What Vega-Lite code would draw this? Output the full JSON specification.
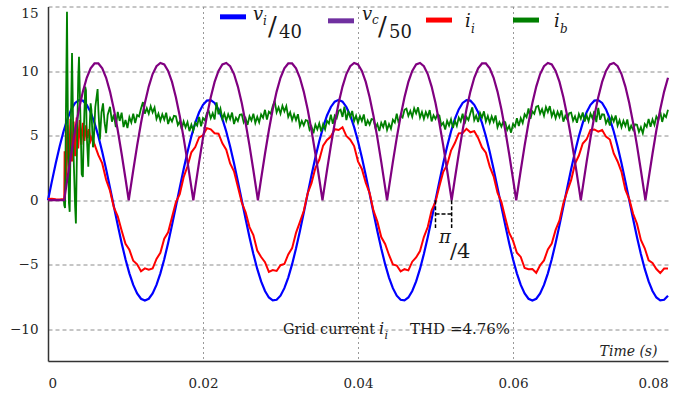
{
"$schema": "https://vega.github.io/schema/vega-lite/v6.json",
"width": 620, "height": 354.5,
"autosize": {"type": "none"},
"padding": {"left": 48, "top": 6.5, "right": 18, "bottom": 32},
"background": "white",
"config": {"view": {"stroke": null}},
"datasets": {
"vi": [
{"t":0,"v":0},{"t":0.0005,"v":1.46},{"t":0.001,"v":2.86},{"t":0.0015,"v":4.16},{"t":0.002,"v":5.32},{"t":0.0025,"v":6.29},{"t":0.003,"v":7.03},{"t":0.0035,"v":7.53},{"t":0.004,"v":7.75},{"t":0.0045,"v":7.71},{"t":0.005,"v":7.39},{"t":0.0055,"v":6.81},{"t":0.006,"v":5.99},{"t":0.0065,"v":4.95},{"t":0.007,"v":3.74},{"t":0.0075,"v":2.40},{"t":0.008,"v":0.97},{"t":0.0085,"v":-0.49},{"t":0.009,"v":-1.93},{"t":0.0095,"v":-3.31},{"t":0.01,"v":-4.57},{"t":0.0105,"v":-5.66},{"t":0.011,"v":-6.56},{"t":0.0115,"v":-7.22},{"t":0.012,"v":-7.63},{"t":0.0125,"v":-7.77},{"t":0.013,"v":-7.63},{"t":0.0135,"v":-7.22},{"t":0.014,"v":-6.56},{"t":0.0145,"v":-5.66},{"t":0.015,"v":-4.57},{"t":0.0155,"v":-3.31},{"t":0.016,"v":-1.93},{"t":0.0165,"v":-0.49},{"t":0.017,"v":0.97},{"t":0.0175,"v":2.40},{"t":0.018,"v":3.74},{"t":0.0185,"v":4.95},{"t":0.019,"v":5.99},{"t":0.0195,"v":6.81},{"t":0.02,"v":7.39},{"t":0.0205,"v":7.71},{"t":0.021,"v":7.75},{"t":0.0215,"v":7.53},{"t":0.022,"v":7.03},{"t":0.0225,"v":6.29},{"t":0.023,"v":5.32},{"t":0.0235,"v":4.16},{"t":0.024,"v":2.86},{"t":0.0245,"v":1.46},{"t":0.025,"v":0},{"t":0.0255,"v":-1.46},{"t":0.026,"v":-2.86},{"t":0.0265,"v":-4.16},{"t":0.027,"v":-5.32},{"t":0.0275,"v":-6.29},{"t":0.028,"v":-7.03},{"t":0.0285,"v":-7.53},{"t":0.029,"v":-7.75},{"t":0.0295,"v":-7.71},{"t":0.03,"v":-7.39},{"t":0.0305,"v":-6.81},{"t":0.031,"v":-5.99},{"t":0.0315,"v":-4.95},{"t":0.032,"v":-3.74},{"t":0.0325,"v":-2.40},{"t":0.033,"v":-0.97},{"t":0.0335,"v":0.49},{"t":0.034,"v":1.93},{"t":0.0345,"v":3.31},{"t":0.035,"v":4.57},{"t":0.0355,"v":5.66},{"t":0.036,"v":6.56},{"t":0.0365,"v":7.22},{"t":0.037,"v":7.63},{"t":0.0375,"v":7.77},{"t":0.038,"v":7.63},{"t":0.0385,"v":7.22},{"t":0.039,"v":6.56},{"t":0.0395,"v":5.66},{"t":0.04,"v":4.57},{"t":0.0405,"v":3.31},{"t":0.041,"v":1.93},{"t":0.0415,"v":0.49},{"t":0.042,"v":-0.97},{"t":0.0425,"v":-2.40},{"t":0.043,"v":-3.74},{"t":0.0435,"v":-4.95},{"t":0.044,"v":-5.99},{"t":0.0445,"v":-6.81},{"t":0.045,"v":-7.39},{"t":0.0455,"v":-7.71},{"t":0.046,"v":-7.75},{"t":0.0465,"v":-7.53},{"t":0.047,"v":-7.03},{"t":0.0475,"v":-6.29},{"t":0.048,"v":-5.32},{"t":0.0485,"v":-4.16},{"t":0.049,"v":-2.86},{"t":0.0495,"v":-1.46},{"t":0.05,"v":0},
{"t":0.0505,"v":1.46},{"t":0.051,"v":2.86},{"t":0.0515,"v":4.16},{"t":0.052,"v":5.32},{"t":0.0525,"v":6.29},{"t":0.053,"v":7.03},{"t":0.0535,"v":7.53},{"t":0.054,"v":7.75},{"t":0.0545,"v":7.71},{"t":0.055,"v":7.39},{"t":0.0555,"v":6.81},{"t":0.056,"v":5.99},{"t":0.0565,"v":4.95},{"t":0.057,"v":3.74},{"t":0.0575,"v":2.40},{"t":0.058,"v":0.97},{"t":0.0585,"v":-0.49},{"t":0.059,"v":-1.93},{"t":0.0595,"v":-3.31},{"t":0.06,"v":-4.57},{"t":0.0605,"v":-5.66},{"t":0.061,"v":-6.56},{"t":0.0615,"v":-7.22},{"t":0.062,"v":-7.63},{"t":0.0625,"v":-7.77},{"t":0.063,"v":-7.63},{"t":0.0635,"v":-7.22},{"t":0.064,"v":-6.56},{"t":0.0645,"v":-5.66},{"t":0.065,"v":-4.57},{"t":0.0655,"v":-3.31},{"t":0.066,"v":-1.93},{"t":0.0665,"v":-0.49},{"t":0.067,"v":0.97},{"t":0.0675,"v":2.40},{"t":0.068,"v":3.74},{"t":0.0685,"v":4.95},{"t":0.069,"v":5.99},{"t":0.0695,"v":6.81},{"t":0.07,"v":7.39},{"t":0.0705,"v":7.71},{"t":0.071,"v":7.75},{"t":0.0715,"v":7.53},{"t":0.072,"v":7.03},{"t":0.0725,"v":6.29},{"t":0.073,"v":5.32},{"t":0.0735,"v":4.16},{"t":0.074,"v":2.86},{"t":0.0745,"v":1.46},{"t":0.075,"v":0},{"t":0.0755,"v":-1.46},{"t":0.076,"v":-2.86},{"t":0.0765,"v":-4.16},{"t":0.077,"v":-5.32},{"t":0.0775,"v":-6.29},{"t":0.078,"v":-7.03},{"t":0.0785,"v":-7.53},{"t":0.079,"v":-7.75},{"t":0.0795,"v":-7.71},{"t":0.08,"v":-7.39}
],
"vc": [
{"t":0,"v":0},{"t":0.001,"v":0},{"t":0.002083,"v":0},{"t":0.0025,"v":1.66},{"t":0.003,"v":3.60},{"t":0.0035,"v":5.42},{"t":0.004,"v":7.04},{"t":0.0045,"v":8.41},{"t":0.005,"v":9.48},{"t":0.0055,"v":10.22},{"t":0.006,"v":10.59},{"t":0.0065,"v":10.59},{"t":0.007,"v":10.22},{"t":0.0075,"v":9.48},{"t":0.008,"v":8.41},{"t":0.0085,"v":7.04},{"t":0.009,"v":5.42},{"t":0.0095,"v":3.60},{"t":0.01,"v":1.66},{"t":0.010417,"v":0},{"t":0.0105,"v":0.33},{"t":0.011,"v":2.32},{"t":0.0115,"v":4.23},{"t":0.012,"v":5.98},{"t":0.0125,"v":7.52},{"t":0.013,"v":8.80},{"t":0.0135,"v":9.77},{"t":0.014,"v":10.38},{"t":0.0145,"v":10.63},{"t":0.015,"v":10.51},{"t":0.0155,"v":10.01},{"t":0.016,"v":9.16},{"t":0.0165,"v":7.98},{"t":0.017,"v":6.52},{"t":0.0175,"v":4.83},{"t":0.018,"v":2.97},{"t":0.0185,"v":1.00},{"t":0.01875,"v":0},{"t":0.019,"v":1.00},{"t":0.0195,"v":2.97},{"t":0.02,"v":4.83},{"t":0.0205,"v":6.52},{"t":0.021,"v":7.98},{"t":0.0215,"v":9.16},{"t":0.022,"v":10.01},{"t":0.0225,"v":10.51},{"t":0.023,"v":10.63},{"t":0.0235,"v":10.38},{"t":0.024,"v":9.77},{"t":0.0245,"v":8.80},{"t":0.025,"v":7.52},{"t":0.0255,"v":5.98},{"t":0.026,"v":4.23},{"t":0.0265,"v":2.32},{"t":0.027,"v":0.33},{"t":0.027083,"v":0},
{"t":0.0275,"v":1.66},{"t":0.028,"v":3.60},{"t":0.0285,"v":5.42},{"t":0.029,"v":7.04},{"t":0.0295,"v":8.41},{"t":0.03,"v":9.48},{"t":0.0305,"v":10.22},{"t":0.031,"v":10.59},{"t":0.0315,"v":10.59},{"t":0.032,"v":10.22},{"t":0.0325,"v":9.48},{"t":0.033,"v":8.41},{"t":0.0335,"v":7.04},{"t":0.034,"v":5.42},{"t":0.0345,"v":3.60},{"t":0.035,"v":1.66},{"t":0.035417,"v":0},{"t":0.0355,"v":0.33},{"t":0.036,"v":2.32},{"t":0.0365,"v":4.23},{"t":0.037,"v":5.98},{"t":0.0375,"v":7.52},{"t":0.038,"v":8.80},{"t":0.0385,"v":9.77},{"t":0.039,"v":10.38},{"t":0.0395,"v":10.63},{"t":0.04,"v":10.51},{"t":0.0405,"v":10.01},{"t":0.041,"v":9.16},{"t":0.0415,"v":7.98},{"t":0.042,"v":6.52},{"t":0.0425,"v":4.83},{"t":0.043,"v":2.97},{"t":0.0435,"v":1.00},{"t":0.04375,"v":0},{"t":0.044,"v":1.00},{"t":0.0445,"v":2.97},{"t":0.045,"v":4.83},{"t":0.0455,"v":6.52},{"t":0.046,"v":7.98},{"t":0.0465,"v":9.16},{"t":0.047,"v":10.01},{"t":0.0475,"v":10.51},{"t":0.048,"v":10.63},{"t":0.0485,"v":10.38},{"t":0.049,"v":9.77},{"t":0.0495,"v":8.80},{"t":0.05,"v":7.52},{"t":0.0505,"v":5.98},{"t":0.051,"v":4.23},{"t":0.0515,"v":2.32},{"t":0.052,"v":0.33},{"t":0.052083,"v":0},
{"t":0.0525,"v":1.66},{"t":0.053,"v":3.60},{"t":0.0535,"v":5.42},{"t":0.054,"v":7.04},{"t":0.0545,"v":8.41},{"t":0.055,"v":9.48},{"t":0.0555,"v":10.22},{"t":0.056,"v":10.59},{"t":0.0565,"v":10.59},{"t":0.057,"v":10.22},{"t":0.0575,"v":9.48},{"t":0.058,"v":8.41},{"t":0.0585,"v":7.04},{"t":0.059,"v":5.42},{"t":0.0595,"v":3.60},{"t":0.06,"v":1.66},{"t":0.060417,"v":0},{"t":0.0605,"v":0.33},{"t":0.061,"v":2.32},{"t":0.0615,"v":4.23},{"t":0.062,"v":5.98},{"t":0.0625,"v":7.52},{"t":0.063,"v":8.80},{"t":0.0635,"v":9.77},{"t":0.064,"v":10.38},{"t":0.0645,"v":10.63},{"t":0.065,"v":10.51},{"t":0.0655,"v":10.01},{"t":0.066,"v":9.16},{"t":0.0665,"v":7.98},{"t":0.067,"v":6.52},{"t":0.0675,"v":4.83},{"t":0.068,"v":2.97},{"t":0.0685,"v":1.00},{"t":0.06875,"v":0},{"t":0.069,"v":1.00},{"t":0.0695,"v":2.97},{"t":0.07,"v":4.83},{"t":0.0705,"v":6.52},{"t":0.071,"v":7.98},{"t":0.0715,"v":9.16},{"t":0.072,"v":10.01},{"t":0.0725,"v":10.51},{"t":0.073,"v":10.63},{"t":0.0735,"v":10.38},{"t":0.074,"v":9.77},{"t":0.0745,"v":8.80},{"t":0.075,"v":7.52},{"t":0.0755,"v":5.98},{"t":0.076,"v":4.23},{"t":0.0765,"v":2.32},{"t":0.077,"v":0.33},{"t":0.077083,"v":0},{"t":0.0775,"v":1.66},{"t":0.078,"v":3.60},{"t":0.0785,"v":5.42},{"t":0.079,"v":7.04},{"t":0.0795,"v":8.41},{"t":0.08,"v":9.48}
],
"ii": [
{"t":0,"v":0.1},{"t":0.0005,"v":0.12},{"t":0.001,"v":0.08},{"t":0.0015,"v":0.06},{"t":0.002,"v":0.1},{"t":0.0021,"v":0.1},{"t":0.00215,"v":3.8},{"t":0.0023,"v":1.5},{"t":0.0025,"v":5.8},{"t":0.0027,"v":2.2},{"t":0.0029,"v":6.3},{"t":0.0031,"v":3.0},{"t":0.0033,"v":6.1},{"t":0.0035,"v":3.4},{"t":0.0037,"v":6.4},{"t":0.0039,"v":4.0},{"t":0.0041,"v":6.2},{"t":0.0043,"v":4.3},{"t":0.0045,"v":6.0},{"t":0.0047,"v":4.6},{"t":0.0049,"v":5.8},{"t":0.0051,"v":4.8},{"t":0.0053,"v":5.5},{"t":0.0055,"v":4.6},{"t":0.0057,"v":4.9},
{"t":0.006,"v":4.32},{"t":0.0065,"v":3.49},{"t":0.007,"v":2.85},{"t":0.0075,"v":1.58},{"t":0.008,"v":0.73},{"t":0.0085,"v":-0.55},{"t":0.009,"v":-1.25},{"t":0.0095,"v":-2.34},{"t":0.01,"v":-3.38},{"t":0.0105,"v":-3.84},{"t":0.011,"v":-4.69},{"t":0.0115,"v":-4.96},{"t":0.012,"v":-5.50},{"t":0.0125,"v":-5.28},{"t":0.013,"v":-5.38},{"t":0.0135,"v":-5.29},{"t":0.014,"v":-4.54},{"t":0.0145,"v":-4.07},{"t":0.015,"v":-2.98},{"t":0.0155,"v":-2.48},{"t":0.016,"v":-1.32},{"t":0.0165,"v":-0.17},{"t":0.017,"v":0.47},{"t":0.0175,"v":1.78},{"t":0.018,"v":2.63},{"t":0.0185,"v":3.71},{"t":0.019,"v":4.12},{"t":0.0195,"v":4.86},{"t":0.02,"v":5.03},{"t":0.0205,"v":5.58},{"t":0.021,"v":5.49},{"t":0.0215,"v":5.18},{"t":0.022,"v":5.15},{"t":0.0225,"v":4.40},{"t":0.023,"v":3.91},{"t":0.0235,"v":2.85},{"t":0.024,"v":2.24},{"t":0.0245,"v":1.05},{"t":0.025,"v":-0.18},{"t":0.0255,"v":-0.93},{"t":0.026,"v":-2.08},{"t":0.0265,"v":-2.70},{"t":0.027,"v":-3.90},{"t":0.0275,"v":-4.40},{"t":0.028,"v":-4.80},{"t":0.0285,"v":-5.55},{"t":0.029,"v":-5.41},{"t":0.0295,"v":-5.48},{"t":0.03,"v":-5.03},{"t":0.0305,"v":-4.94},{"t":0.031,"v":-4.20},{"t":0.0315,"v":-3.71},{"t":0.032,"v":-2.53},{"t":0.0325,"v":-1.70},{"t":0.033,"v":-0.84},{"t":0.0335,"v":0.52},{"t":0.034,"v":1.32},{"t":0.0345,"v":2.49},{"t":0.035,"v":3.13},{"t":0.0355,"v":4.23},{"t":0.036,"v":4.66},{"t":0.0365,"v":4.93},{"t":0.037,"v":5.50},{"t":0.0375,"v":5.44},{"t":0.038,"v":5.65},{"t":0.0385,"v":4.97},{"t":0.039,"v":4.69},{"t":0.0395,"v":4.19},{"t":0.04,"v":3.01},{"t":0.0405,"v":2.42},{"t":0.041,"v":1.35},{"t":0.0415,"v":0.55},{"t":0.042,"v":-0.81},{"t":0.0425,"v":-1.66},{"t":0.043,"v":-2.85},{"t":0.0435,"v":-3.39},{"t":0.044,"v":-4.24},{"t":0.0445,"v":-4.97},{"t":0.045,"v":-5.06},{"t":0.0455,"v":-5.51},{"t":0.046,"v":-5.34},{"t":0.0465,"v":-5.43},{"t":0.047,"v":-4.76},{"t":0.0475,"v":-4.43},{"t":0.048,"v":-3.94},{"t":0.0485,"v":-2.85},{"t":0.049,"v":-2.08},{"t":0.0495,"v":-0.78},{"t":0.05,"v":-0.14},{"t":0.0505,"v":1.08},{"t":0.051,"v":2.20},{"t":0.0515,"v":2.73},{"t":0.052,"v":3.84},{"t":0.0525,"v":4.43},{"t":0.053,"v":5.18},{"t":0.0535,"v":5.21},{"t":0.054,"v":5.53},{"t":0.0545,"v":5.26},{"t":0.055,"v":5.35},{"t":0.0555,"v":4.82},{"t":0.056,"v":4.09},{"t":0.0565,"v":3.68},{"t":0.057,"v":2.60},{"t":0.0575,"v":1.85},{"t":0.058,"v":0.59},{"t":0.0585,"v":-0.13},{"t":0.059,"v":-1.35},{"t":0.0595,"v":-2.52},{"t":0.06,"v":-3.13},{"t":0.0605,"v":-4.07},{"t":0.061,"v":-4.39},{"t":0.0615,"v":-5.25},{"t":0.062,"v":-5.35},{"t":0.0625,"v":-5.32},{"t":0.063,"v":-5.62},{"t":0.0635,"v":-5.03},{"t":0.064,"v":-4.66},{"t":0.0645,"v":-3.81},{"t":0.065,"v":-3.35},{"t":0.0655,"v":-2.30},{"t":0.066,"v":-1.57},{"t":0.0665,"v":-0.23},{"t":0.067,"v":0.69},{"t":0.0675,"v":1.55},{"t":0.068,"v":2.82},{"t":0.0685,"v":3.46},{"t":0.069,"v":4.39},{"t":0.0695,"v":4.72},{"t":0.07,"v":5.45},{"t":0.0705,"v":5.48},{"t":0.071,"v":5.31},{"t":0.0715,"v":5.43},{"t":0.072,"v":4.92},{"t":0.0725,"v":4.70},{"t":0.073,"v":3.62},{"t":0.0735,"v":3.00},{"t":0.074,"v":2.20},{"t":0.0745,"v":0.81},{"t":0.075,"v":0.08},{"t":0.0755,"v":-1.05},{"t":0.076,"v":-1.82},{"t":0.0765,"v":-3.07},{"t":0.077,"v":-3.72},{"t":0.0775,"v":-4.65},{"t":0.078,"v":-4.86},{"t":0.0785,"v":-5.33},{"t":0.079,"v":-5.64},{"t":0.0795,"v":-5.29},{"t":0.08,"v":-5.28}
],
"ib": [
{"t":0.00205,"v":0},{"t":0.0021,"v":-0.4},{"t":0.0022,"v":-0.6},{"t":0.0023,"v":6.0},{"t":0.00245,"v":14.6},{"t":0.0026,"v":4.0},{"t":0.0027,"v":-0.2},{"t":0.0028,"v":-0.9},{"t":0.0029,"v":4.0},{"t":0.0031,"v":11.4},{"t":0.0033,"v":3.5},{"t":0.0035,"v":-0.5},{"t":0.0036,"v":-1.8},{"t":0.0037,"v":2.5},{"t":0.0039,"v":9.5},{"t":0.004,"v":11.1},{"t":0.0042,"v":6.0},{"t":0.00435,"v":2.0},{"t":0.0045,"v":1.8},{"t":0.0046,"v":5.0},{"t":0.0048,"v":8.8},{"t":0.0049,"v":8.5},{"t":0.005,"v":5.0},{"t":0.0052,"v":2.6},{"t":0.0053,"v":4.5},{"t":0.0055,"v":7.5},{"t":0.0056,"v":7.0},{"t":0.0058,"v":4.1},{"t":0.0059,"v":4.5},{"t":0.0061,"v":7.2},{"t":0.0064,"v":8.6},{"t":0.0065,"v":7.0},{"t":0.0067,"v":4.7},{"t":0.0069,"v":6.8},{"t":0.0071,"v":7.5},{"t":0.0073,"v":6.0},{"t":0.0075,"v":5.2},{"t":0.0077,"v":6.6},
{"t":0.008,"v":7.23},{"t":0.00825,"v":6.08},{"t":0.0085,"v":6.63},{"t":0.00875,"v":5.66},{"t":0.009,"v":6.84},{"t":0.00925,"v":6.14},{"t":0.0095,"v":6.78},{"t":0.00975,"v":5.66},{"t":0.01,"v":6.21},{"t":0.01025,"v":5.59},{"t":0.0105,"v":6.43},{"t":0.01075,"v":6.02},{"t":0.011,"v":6.70},{"t":0.01125,"v":5.98},{"t":0.0115,"v":6.60},{"t":0.01175,"v":6.48},{"t":0.012,"v":7.10},{"t":0.01225,"v":7.60},{"t":0.0125,"v":6.70},{"t":0.01275,"v":7.13},{"t":0.013,"v":6.70},{"t":0.01325,"v":7.28},{"t":0.0135,"v":6.80},{"t":0.01375,"v":7.18},{"t":0.014,"v":6.30},{"t":0.01425,"v":6.70},{"t":0.0145,"v":6.15},{"t":0.01475,"v":6.65},{"t":0.015,"v":6.25},{"t":0.01525,"v":6.78},{"t":0.0155,"v":5.90},{"t":0.01575,"v":6.38},{"t":0.016,"v":6.10},{"t":0.01625,"v":6.53},{"t":0.0165,"v":6.50},{"t":0.01675,"v":5.83},{"t":0.017,"v":6.10},{"t":0.01725,"v":5.50},{"t":0.0175,"v":6.10},{"t":0.01775,"v":5.65},{"t":0.018,"v":6.05},{"t":0.01825,"v":5.35},{"t":0.0185,"v":5.85},{"t":0.01875,"v":5.40},{"t":0.019,"v":6.00},{"t":0.01925,"v":5.78},{"t":0.0195,"v":6.45},{"t":0.01975,"v":5.73},{"t":0.02,"v":6.35},{"t":0.02025,"v":6.18},{"t":0.0205,"v":6.75},{"t":0.02075,"v":6.88},{"t":0.021,"v":6.35},{"t":0.02125,"v":6.73},{"t":0.0215,"v":6.25},{"t":0.02175,"v":7.58},{"t":0.022,"v":6.65},{"t":0.02225,"v":7.10},{"t":0.0225,"v":6.30},{"t":0.02275,"v":6.70},{"t":0.023,"v":6.15},{"t":0.02325,"v":6.66},{"t":0.0235,"v":6.28},{"t":0.02375,"v":6.79},{"t":0.024,"v":5.90},{"t":0.02425,"v":6.39},{"t":0.0245,"v":6.13},{"t":0.02475,"v":6.61},{"t":0.025,"v":6.65},{"t":0.02525,"v":6.03},{"t":0.0255,"v":6.35},{"t":0.02575,"v":5.83},{"t":0.026,"v":6.50},{"t":0.02625,"v":6.18},{"t":0.0265,"v":6.70},{"t":0.02675,"v":5.98},{"t":0.027,"v":6.45},{"t":0.02725,"v":6.03},{"t":0.0275,"v":6.65},{"t":0.02775,"v":6.38},{"t":0.028,"v":7.00},{"t":0.02825,"v":6.25},{"t":0.0285,"v":6.85},{"t":0.02875,"v":6.70},{"t":0.029,"v":7.30},{"t":0.02925,"v":7.68},{"t":0.0295,"v":6.80},{"t":0.02975,"v":7.18},{"t":0.03,"v":6.70},{"t":0.03025,"v":7.31},{"t":0.0305,"v":6.88},{"t":0.03075,"v":7.29},{"t":0.031,"v":6.45},{"t":0.03125,"v":6.80},{"t":0.0315,"v":6.20},{"t":0.03175,"v":6.65},{"t":0.032,"v":6.20},{"t":0.03225,"v":6.66},{"t":0.0325,"v":5.73},{"t":0.03275,"v":6.14},{"t":0.033,"v":5.80},{"t":0.03325,"v":6.20},{"t":0.0335,"v":6.15},{"t":0.03375,"v":5.45},{"t":0.034,"v":5.70},{"t":0.03425,"v":5.18},{"t":0.0345,"v":5.85},{"t":0.03475,"v":5.48},{"t":0.035,"v":5.95},{"t":0.03525,"v":5.31},{"t":0.0355,"v":5.88},{"t":0.03575,"v":5.49},{"t":0.036,"v":6.15},{"t":0.03625,"v":5.94},{"t":0.0365,"v":6.63},{"t":0.03675,"v":5.91},{"t":0.037,"v":6.55},{"t":0.03725,"v":6.35},{"t":0.0375,"v":6.90},{"t":0.03775,"v":7.00},{"t":0.038,"v":6.45},{"t":0.03825,"v":7.25},{"t":0.0385,"v":6.20},{"t":0.03875,"v":6.85},{"t":0.039,"v":6.45},{"t":0.03925,"v":6.91},{"t":0.0395,"v":6.13},{"t":0.03975,"v":6.54},{"t":0.04,"v":6.00},{"t":0.04025,"v":6.51},{"t":0.0405,"v":6.13},{"t":0.04075,"v":6.64},{"t":0.041,"v":5.75},{"t":0.04125,"v":6.18},{"t":0.0415,"v":5.85},{"t":0.04175,"v":6.28},{"t":0.042,"v":6.25},{"t":0.04225,"v":5.60},{"t":0.0425,"v":5.90},{"t":0.04275,"v":5.35},{"t":0.043,"v":6.00},{"t":0.04325,"v":5.66},{"t":0.0435,"v":6.18},{"t":0.04375,"v":5.44},{"t":0.044,"v":5.90},{"t":0.04425,"v":5.54},{"t":0.0445,"v":6.23},{"t":0.04475,"v":6.01},{"t":0.045,"v":6.70},{"t":0.04525,"v":5.95},{"t":0.0455,"v":6.55},{"t":0.04575,"v":6.40},{"t":0.046,"v":7.00},{"t":0.04625,"v":7.09},{"t":0.0465,"v":6.53},{"t":0.04675,"v":6.91},{"t":0.047,"v":6.45},{"t":0.04725,"v":7.11},{"t":0.0475,"v":6.73},{"t":0.04775,"v":7.19},{"t":0.048,"v":6.40},{"t":0.04825,"v":6.83},{"t":0.0485,"v":6.30},{"t":0.04875,"v":6.83},{"t":0.049,"v":6.45},{"t":0.04925,"v":6.98},{"t":0.0495,"v":6.10},{"t":0.04975,"v":6.58},{"t":0.05,"v":6.30},{"t":0.05025,"v":6.65},{"t":0.0505,"v":6.55},{"t":0.05075,"v":5.80},{"t":0.051,"v":6.00},{"t":0.05125,"v":5.48},{"t":0.0515,"v":6.15},{"t":0.05175,"v":5.78},{"t":0.052,"v":6.25},{"t":0.05225,"v":5.60},{"t":0.0525,"v":6.15},{"t":0.05275,"v":5.75},{"t":0.053,"v":6.40},{"t":0.05325,"v":6.10},{"t":0.0535,"v":6.70},{"t":0.05375,"v":5.90},{"t":0.054,"v":6.45},{"t":0.05425,"v":6.21},{"t":0.0545,"v":6.73},{"t":0.05475,"v":7.19},{"t":0.055,"v":6.20},{"t":0.05525,"v":6.55},{"t":0.0555,"v":6.05},{"t":0.05575,"v":6.75},{"t":0.056,"v":6.40},{"t":0.05625,"v":6.88},{"t":0.0565,"v":6.10},{"t":0.05675,"v":6.53},{"t":0.057,"v":6.00},{"t":0.05725,"v":6.49},{"t":0.0575,"v":6.08},{"t":0.05775,"v":6.56},{"t":0.058,"v":5.65},{"t":0.05825,"v":6.05},{"t":0.0585,"v":5.70},{"t":0.05875,"v":6.10},{"t":0.059,"v":6.05},{"t":0.05925,"v":5.43},{"t":0.0595,"v":5.75},{"t":0.05975,"v":5.23},{"t":0.06,"v":5.90},{"t":0.06025,"v":5.70},{"t":0.0605,"v":6.35},{"t":0.06075,"v":5.75},{"t":0.061,"v":6.35},{"t":0.06125,"v":5.98},{"t":0.0615,"v":6.65},{"t":0.06175,"v":6.43},{"t":0.062,"v":7.10},{"t":0.06225,"v":6.31},{"t":0.0625,"v":6.88},{"t":0.06275,"v":6.69},{"t":0.063,"v":7.25},{"t":0.06325,"v":7.30},{"t":0.0635,"v":6.70},{"t":0.06375,"v":7.05},{"t":0.064,"v":6.55},{"t":0.06425,"v":7.21},{"t":0.0645,"v":6.83},{"t":0.06475,"v":7.29},{"t":0.065,"v":6.50},{"t":0.06525,"v":6.90},{"t":0.0655,"v":6.35},{"t":0.06575,"v":6.85},{"t":0.066,"v":6.45},{"t":0.06625,"v":6.96},{"t":0.0665,"v":6.08},{"t":0.06675,"v":6.54},{"t":0.067,"v":6.25},{"t":0.06725,"v":6.74},{"t":0.0675,"v":6.78},{"t":0.06775,"v":6.16},{"t":0.068,"v":6.50},{"t":0.06825,"v":5.99},{"t":0.0685,"v":6.68},{"t":0.06875,"v":6.31},{"t":0.069,"v":6.80},{"t":0.06925,"v":6.09},{"t":0.0695,"v":6.58},{"t":0.06975,"v":6.11},{"t":0.07,"v":6.70},{"t":0.07025,"v":6.35},{"t":0.0705,"v":6.90},{"t":0.07075,"v":6.05},{"t":0.071,"v":7.15},{"t":0.07125,"v":6.23},{"t":0.0715,"v":6.65},{"t":0.07175,"v":6.63},{"t":0.072,"v":5.95},{"t":0.07225,"v":6.29},{"t":0.0725,"v":5.78},{"t":0.07275,"v":6.46},{"t":0.073,"v":6.10},{"t":0.07325,"v":6.56},{"t":0.0735,"v":5.78},{"t":0.07375,"v":6.19},{"t":0.074,"v":5.65},{"t":0.07425,"v":6.15},{"t":0.0745,"v":5.75},{"t":0.07475,"v":6.25},{"t":0.075,"v":5.35},{"t":0.07525,"v":5.78},{"t":0.0755,"v":5.45},{"t":0.07575,"v":5.88},{"t":0.076,"v":5.85},{"t":0.07625,"v":5.28},{"t":0.0765,"v":5.65},{"t":0.07675,"v":5.18},{"t":0.077,"v":5.90},{"t":0.07725,"v":5.68},{"t":0.0775,"v":6.30},{"t":0.07775,"v":5.68},{"t":0.078,"v":6.25},{"t":0.07825,"v":5.84},{"t":0.0785,"v":6.48},{"t":0.07875,"v":6.21},{"t":0.079,"v":6.85},{"t":0.07925,"v":6.06},{"t":0.0795,"v":6.63},{"t":0.07975,"v":6.44},{"t":0.08,"v":7.00}
],
"one": [{"k": 1}]
},
"layer": [
{"data": {"name": "vi"}, "mark": {"type": "line", "color": "#0000ff", "strokeWidth": 2.2},
 "encoding": {
 "x": {"field": "t", "type": "quantitative",
  "scale": {"domain": [0, 0.08], "nice": false, "zero": false},
  "axis": {"values": [0, 0.02, 0.04, 0.06, 0.08], "format": ".2~f", "title": "Time (s)",
   "labelFont": "DejaVu Serif", "labelFontSize": 13.5, "labelColor": "#262626", "labelPadding": 15, "ticks": false, "labelFlush": true,
   "domainColor": "#333333", "domainWidth": 1.5,
   "grid": true, "gridColor": "#999999", "gridDash": [2, 3], "gridWidth": 1,
   "gridOpacity": {"condition": {"test": "datum.value < 0.001 || datum.value > 0.079", "value": 0}, "value": 1},
   "titleFont": "DejaVu Serif", "titleFontStyle": "italic", "titleFontWeight": "normal", "titleFontSize": 14, "titleColor": "#262626",
   "titleAlign": "right", "titleBaseline": "alphabetic", "titleX": 609, "titleY": -6}},
 "y": {"field": "v", "type": "quantitative",
  "scale": {"domain": [-12.45, 15], "nice": false, "zero": false},
  "axis": {"values": [-10, -5, 0, 5, 10, 15], "title": null,
   "labelFont": "DejaVu Serif", "labelFontSize": 13.5, "labelColor": "#262626", "labelPadding": 10, "ticks": false, "labelFlush": true,
   "domainColor": "#333333", "domainWidth": 1.5,
   "grid": true, "gridColor": "#8c8c8c", "gridDash": [4, 3], "gridWidth": 1}}}},
{"data": {"name": "ii"}, "mark": {"type": "line", "color": "#ff0000", "strokeWidth": 2},
 "encoding": {"x": {"field": "t", "type": "quantitative"}, "y": {"field": "v", "type": "quantitative"}}},
{"data": {"name": "ib"}, "mark": {"type": "line", "color": "#008000", "strokeWidth": 1.8},
 "encoding": {"x": {"field": "t", "type": "quantitative"}, "y": {"field": "v", "type": "quantitative"}}},
{"data": {"name": "vc"}, "mark": {"type": "line", "color": "#800080", "strokeWidth": 2.2},
 "encoding": {"x": {"field": "t", "type": "quantitative"}, "y": {"field": "v", "type": "quantitative"}}},
{"data": {"name": "one"}, "mark": {"type": "rule", "color": "#0000ff", "strokeWidth": 5}, "encoding": {"x": {"datum": 0.022194, "type": "quantitative"}, "x2": {"datum": 0.025548}, "y": {"datum": 14.2, "type": "quantitative"}}},
{"data": {"name": "one"}, "mark": {"type": "rule", "color": "#7030a0", "strokeWidth": 5}, "encoding": {"x": {"datum": 0.036129, "type": "quantitative"}, "x2": {"datum": 0.039484}, "y": {"datum": 13.89, "type": "quantitative"}}},
{"data": {"name": "one"}, "mark": {"type": "rule", "color": "#ff0000", "strokeWidth": 5}, "encoding": {"x": {"datum": 0.048774, "type": "quantitative"}, "x2": {"datum": 0.052129}, "y": {"datum": 13.95, "type": "quantitative"}}},
{"data": {"name": "one"}, "mark": {"type": "rule", "color": "#008000", "strokeWidth": 5}, "encoding": {"x": {"datum": 0.06, "type": "quantitative"}, "x2": {"datum": 0.063355}, "y": {"datum": 13.95, "type": "quantitative"}}},
{"data": {"name": "one"}, "mark": {"type": "text", "text": "v", "font": "DejaVu Serif", "fontStyle": "italic", "fontSize": 18, "align": "left", "baseline": "alphabetic", "color": "#1a1a1a"}, "encoding": {"x": {"datum": 0.026452, "type": "quantitative"}, "y": {"datum": 13.955, "type": "quantitative"}}},
{"data": {"name": "one"}, "mark": {"type": "text", "text": "i", "font": "DejaVu Serif", "fontStyle": "italic", "fontSize": 12, "align": "left", "baseline": "alphabetic", "color": "#1a1a1a"}, "encoding": {"x": {"datum": 0.027742, "type": "quantitative"}, "y": {"datum": 13.53, "type": "quantitative"}}},
{"data": {"name": "one"}, "mark": {"type": "text", "text": "/", "font": "DejaVu Serif", "fontSize": 26, "align": "left", "baseline": "alphabetic", "color": "#1a1a1a"}, "encoding": {"x": {"datum": 0.028387, "type": "quantitative"}, "y": {"datum": 12.82, "type": "quantitative"}}},
{"data": {"name": "one"}, "mark": {"type": "text", "text": "40", "font": "DejaVu Serif", "fontSize": 18, "align": "left", "baseline": "alphabetic", "color": "#1a1a1a"}, "encoding": {"x": {"datum": 0.029806, "type": "quantitative"}, "y": {"datum": 12.56, "type": "quantitative"}}},
{"data": {"name": "one"}, "mark": {"type": "text", "text": "v", "font": "DejaVu Serif", "fontStyle": "italic", "fontSize": 18, "align": "left", "baseline": "alphabetic", "color": "#1a1a1a"}, "encoding": {"x": {"datum": 0.040516, "type": "quantitative"}, "y": {"datum": 13.955, "type": "quantitative"}}},
{"data": {"name": "one"}, "mark": {"type": "text", "text": "c", "font": "DejaVu Serif", "fontStyle": "italic", "fontSize": 12, "align": "left", "baseline": "alphabetic", "color": "#1a1a1a"}, "encoding": {"x": {"datum": 0.041806, "type": "quantitative"}, "y": {"datum": 13.68, "type": "quantitative"}}},
{"data": {"name": "one"}, "mark": {"type": "text", "text": "/", "font": "DejaVu Serif", "fontSize": 26, "align": "left", "baseline": "alphabetic", "color": "#1a1a1a"}, "encoding": {"x": {"datum": 0.042581, "type": "quantitative"}, "y": {"datum": 12.82, "type": "quantitative"}}},
{"data": {"name": "one"}, "mark": {"type": "text", "text": "50", "font": "DejaVu Serif", "fontSize": 18, "align": "left", "baseline": "alphabetic", "color": "#1a1a1a"}, "encoding": {"x": {"datum": 0.044, "type": "quantitative"}, "y": {"datum": 12.56, "type": "quantitative"}}},
{"data": {"name": "one"}, "mark": {"type": "text", "text": "i", "font": "DejaVu Serif", "fontStyle": "italic", "fontSize": 18, "align": "left", "baseline": "alphabetic", "color": "#1a1a1a"}, "encoding": {"x": {"datum": 0.053806, "type": "quantitative"}, "y": {"datum": 13.41, "type": "quantitative"}}},
{"data": {"name": "one"}, "mark": {"type": "text", "text": "i", "font": "DejaVu Serif", "fontStyle": "italic", "fontSize": 12, "align": "left", "baseline": "alphabetic", "color": "#1a1a1a"}, "encoding": {"x": {"datum": 0.054581, "type": "quantitative"}, "y": {"datum": 12.95, "type": "quantitative"}}},
{"data": {"name": "one"}, "mark": {"type": "text", "text": "i", "font": "DejaVu Serif", "fontStyle": "italic", "fontSize": 18, "align": "left", "baseline": "alphabetic", "color": "#1a1a1a"}, "encoding": {"x": {"datum": 0.06529, "type": "quantitative"}, "y": {"datum": 13.41, "type": "quantitative"}}},
{"data": {"name": "one"}, "mark": {"type": "text", "text": "b", "font": "DejaVu Serif", "fontStyle": "italic", "fontSize": 12, "align": "left", "baseline": "alphabetic", "color": "#1a1a1a"}, "encoding": {"x": {"datum": 0.066065, "type": "quantitative"}, "y": {"datum": 12.95, "type": "quantitative"}}},
{"data": {"name": "one"}, "mark": {"type": "rule", "color": "#000000", "strokeWidth": 1.5, "strokeDash": [4, 2]}, "encoding": {"x": {"datum": 0.05, "type": "quantitative"}, "y": {"datum": 0, "type": "quantitative"}, "y2": {"datum": -2.15}}},
{"data": {"name": "one"}, "mark": {"type": "rule", "color": "#000000", "strokeWidth": 1.5, "strokeDash": [4, 2]}, "encoding": {"x": {"datum": 0.052083, "type": "quantitative"}, "y": {"datum": 0, "type": "quantitative"}, "y2": {"datum": -2.15}}},
{"data": {"name": "one"}, "mark": {"type": "rule", "color": "#000000", "strokeWidth": 1.5, "strokeDash": [4, 2]}, "encoding": {"x": {"datum": 0.05, "type": "quantitative"}, "x2": {"datum": 0.052083}, "y": {"datum": -1.07, "type": "quantitative"}}},
{"data": {"name": "one"}, "mark": {"type": "text", "text": "π", "font": "DejaVu Serif", "fontStyle": "italic", "fontSize": 18, "align": "left", "baseline": "alphabetic", "color": "#1a1a1a"}, "encoding": {"x": {"datum": 0.050452, "type": "quantitative"}, "y": {"datum": -3.31, "type": "quantitative"}}},
{"data": {"name": "one"}, "mark": {"type": "text", "text": "/4", "font": "DejaVu Serif", "fontSize": 21, "align": "left", "baseline": "alphabetic", "color": "#1a1a1a"}, "encoding": {"x": {"datum": 0.051871, "type": "quantitative"}, "y": {"datum": -4.47, "type": "quantitative"}}},
{"data": {"name": "one"}, "mark": {"type": "text", "text": "Grid current", "font": "DejaVu Serif", "fontSize": 14.5, "align": "left", "baseline": "alphabetic", "color": "#1a1a1a"}, "encoding": {"x": {"datum": 0.030323, "type": "quantitative"}, "y": {"datum": -10.36, "type": "quantitative"}}},
{"data": {"name": "one"}, "mark": {"type": "text", "text": "i", "font": "DejaVu Serif", "fontStyle": "italic", "fontSize": 16, "align": "left", "baseline": "alphabetic", "color": "#1a1a1a"}, "encoding": {"x": {"datum": 0.04271, "type": "quantitative"}, "y": {"datum": -10.36, "type": "quantitative"}}},
{"data": {"name": "one"}, "mark": {"type": "text", "text": "i", "font": "DejaVu Serif", "fontStyle": "italic", "fontSize": 11, "align": "left", "baseline": "alphabetic", "color": "#1a1a1a"}, "encoding": {"x": {"datum": 0.04342, "type": "quantitative"}, "y": {"datum": -10.71, "type": "quantitative"}}},
{"data": {"name": "one"}, "mark": {"type": "text", "text": "THD =4.76%", "font": "DejaVu Serif", "fontSize": 15, "align": "left", "baseline": "alphabetic", "color": "#1a1a1a"}, "encoding": {"x": {"datum": 0.04671, "type": "quantitative"}, "y": {"datum": -10.36, "type": "quantitative"}}}
]
}
